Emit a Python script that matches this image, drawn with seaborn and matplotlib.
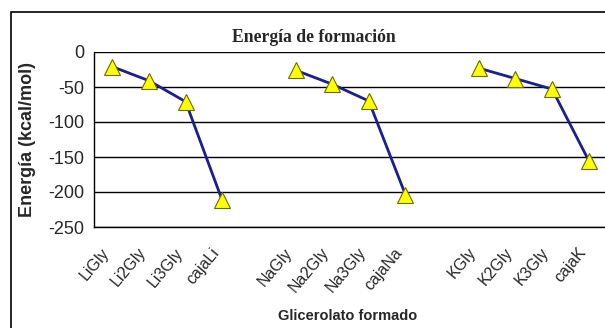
import matplotlib
matplotlib.use("Agg")
import matplotlib.pyplot as plt
import numpy as np
import pandas as pd
import seaborn as sns
from matplotlib.patches import Rectangle

sns.set_style("white")
plt.rcParams['font.family'] = ['Liberation Sans', 'DejaVu Sans']
plt.rcParams['axes.unicode_minus'] = False

# categories (empty strings are the gaps between the groups)
categories = ['LiGly', 'Li2Gly', 'Li3Gly', 'cajaLi', '',
              'NaGly', 'Na2Gly', 'Na3Gly', 'cajaNa', '',
              'KGly', 'K2Gly', 'K3Gly', 'cajaK']
groups = ['Li', 'Li', 'Li', 'Li', None,
          'Na', 'Na', 'Na', 'Na', None,
          'K', 'K', 'K', 'K']
energia = [-21, -41, -71, -212, None,
           -26, -46, -70, -204, None,
           -23, -38, -53, -155]

df = pd.DataFrame({'cat': categories, 'grupo': groups, 'energia': energia})
df['pos'] = np.arange(len(categories))
df = df.dropna()

fig = plt.figure(figsize=(6.05, 3.28), dpi=100)
ax = fig.add_axes([94 / 605, 1 - 227 / 328, 513 / 605, 175 / 328])

sns.lineplot(ax=ax, data=df, x='pos', y='energia', units='grupo', estimator=None,
             color='#1c1c94', lw=2, marker='^', markersize=11,
             markerfacecolor='#ffff00', markeredgecolor='#6b6b00', markeredgewidth=0.8)

ax.set_xlim(-0.5, len(categories) - 0.5)
ax.set_ylim(-250, 0)
ax.set_yticks(np.arange(-250, 1, 50))
ax.yaxis.grid(True, color='black', lw=1)
ax.set_axisbelow(True)

ax.set_xticks(np.arange(len(categories)))
ax.set_xticklabels(categories, rotation=50, ha='right', fontsize=11.5)
ax.set_xticks(np.arange(len(categories)) - 0.5, minor=True)
ax.tick_params(axis='x', which='major', length=0, pad=13)
ax.tick_params(axis='x', which='minor', length=5, width=1, color='black', direction='out')
ax.tick_params(axis='y', length=6, width=1, color='black', direction='out', labelsize=13, pad=1)

for s in ['top', 'right']:
    ax.spines[s].set_visible(False)
for s in ['left', 'bottom']:
    ax.spines[s].set_color('black')
    ax.spines[s].set_linewidth(1)

ax.set_xlabel('')
ax.set_ylabel('')

fig.text(28 / 605, 1 - 140 / 328, 'Energía (kcal/mol)', rotation=90, ha='center', va='center',
         fontsize=13, fontweight='bold')
fig.text(314 / 605, 1 - 37 / 328, 'Energía de formación', ha='center', va='center',
         fontsize=12.7, fontweight='bold', family=['Liberation Serif', 'DejaVu Serif'])
fig.text(348 / 605, 1 - 316 / 328, 'Glicerolato formado', ha='center', va='center',
         fontsize=10.5, fontweight='bold', family=['Liberation Sans Narrow', 'Liberation Sans', 'DejaVu Sans'])

fig.patches.append(Rectangle((11 / 605, -0.05), 1.0, 1 - 12 / 328 + 0.05, transform=fig.transFigure,
                             fill=False, edgecolor='black', lw=1.2))

fig.savefig('out.png', dpi=100)
